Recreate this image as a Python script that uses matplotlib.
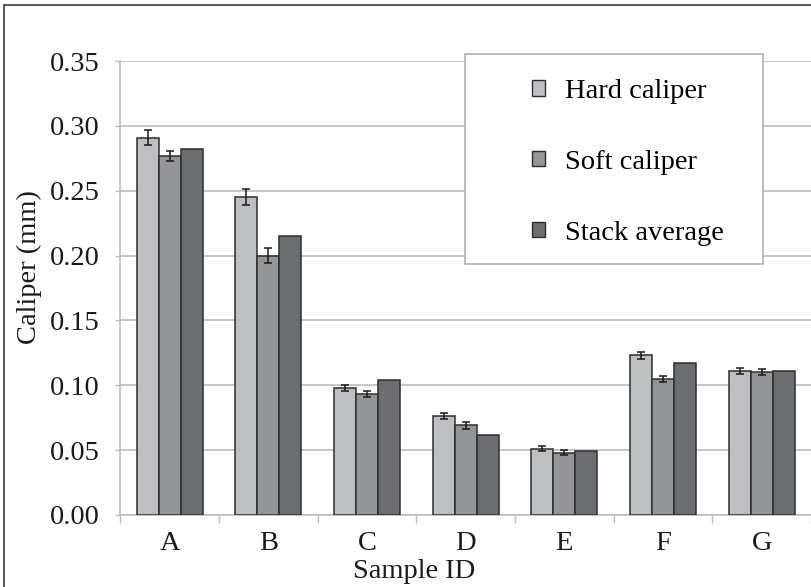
import matplotlib
matplotlib.use("Agg")
import matplotlib.pyplot as plt
import numpy as np
from matplotlib.patches import Rectangle, Patch

categories = ["A", "B", "C", "D", "E", "F", "G"]
hard = [0.291, 0.245, 0.098, 0.076, 0.051, 0.123, 0.111]
hard_err = [0.006, 0.006, 0.0023, 0.0023, 0.0019, 0.003, 0.0024]
soft = [0.277, 0.200, 0.093, 0.069, 0.048, 0.105, 0.110]
soft_err = [0.004, 0.006, 0.0024, 0.0026, 0.002, 0.0023, 0.0022]
stack = [0.282, 0.215, 0.104, 0.062, 0.049, 0.117, 0.111]
series_names = ["Hard caliper", "Soft caliper", "Stack average"]
yticks = [0.00, 0.05, 0.10, 0.15, 0.20, 0.25, 0.30, 0.35]

colors = ["#BEBFC3", "#939598", "#6C6D71"]
edge = "#2E2E2E"
grid_c = "#BDBDBD"
txt_c = "#1A1A1A"
W, H = 812, 587
FS = 20.5

plt.rcParams["font.family"] = ["Liberation Serif", "DejaVu Serif"]
fig = plt.figure(figsize=(W / 100, H / 100), dpi=100)
ax = fig.add_axes([120.3 / W, 1 - 515 / H, (811 - 120.3) / W, (515 - 61) / H])

x = np.arange(len(categories))
bw = 0.223
ekw = dict(ecolor="#1A1A1A", elinewidth=1.1, capsize=2.6, capthick=1.1)
ax.bar(x - bw, hard, bw, color=colors[0], edgecolor=edge, linewidth=1.1,
       yerr=hard_err, error_kw=ekw, zorder=3)
ax.bar(x, soft, bw, color=colors[1], edgecolor=edge, linewidth=1.1,
       yerr=soft_err, error_kw=ekw, zorder=3)
ax.bar(x + bw, stack, bw, color=colors[2], edgecolor=edge, linewidth=1.1, zorder=3)

ax.set_xlim(-0.5, len(categories) - 0.5)
ax.set_ylim(0, 0.35)
ax.set_yticks(yticks)
ax.set_yticklabels([f"{v:.2f}" for v in yticks])
ax.yaxis.grid(True, color=grid_c, linewidth=1.2, zorder=0)
ax.set_axisbelow(True)

ax.set_xticks(x)
ax.set_xticklabels(categories)
ax.set_xticks(np.arange(-0.5, len(categories), 1.0), minor=True)
ax.tick_params(axis="x", which="major", length=0, pad=11.4, labelsize=FS, colors=txt_c)
ax.tick_params(axis="x", which="minor", length=5.5, width=1.0, color=grid_c, direction="out")
ax.tick_params(axis="y", which="major", length=3.8, width=1.0, color=grid_c, pad=11,
               labelsize=FS, labelcolor=txt_c)

for s in ["top", "right"]:
    ax.spines[s].set_visible(False)
for s in ["left", "bottom"]:
    ax.spines[s].set_color(grid_c)
    ax.spines[s].set_linewidth(1.2)

# axis titles (manually placed as in the reference)
fig.text(414 / W, 1 - 571 / H, "Sample ID", ha="center", va="center",
         fontsize=FS, color=txt_c)
fig.text(29.5 / W, 1 - 267 / H, "Caliper (mm)", ha="center", va="center",
         rotation=90, fontsize=FS, color=txt_c)

# legend frame
fig.patches.append(Rectangle((465 / W, 1 - 264 / H), (763 - 465) / W, (264 - 54) / H,
                             transform=fig.transFigure, facecolor="white",
                             edgecolor="#B0B0B0", linewidth=1.2, zorder=4))
handles = [Patch(facecolor=c, edgecolor=edge, linewidth=1.0) for c in colors]
fig.legend(handles, series_names, loc="upper left",
           bbox_to_anchor=(532 / W, 1 - 79 / H), frameon=False, fontsize=FS,
           handlelength=0.45, handleheight=0.45, handletextpad=0.7,
           labelspacing=1.61, borderpad=0, borderaxespad=0)

# outer border
fig.patches.append(Rectangle((4.5 / W, -0.05), 1.2, 1 - 5 / H + 0.05,
                             transform=fig.transFigure, facecolor="none",
                             edgecolor="#4A4A4A", linewidth=1.3, zorder=6))

fig.savefig("out.png", dpi=100)
